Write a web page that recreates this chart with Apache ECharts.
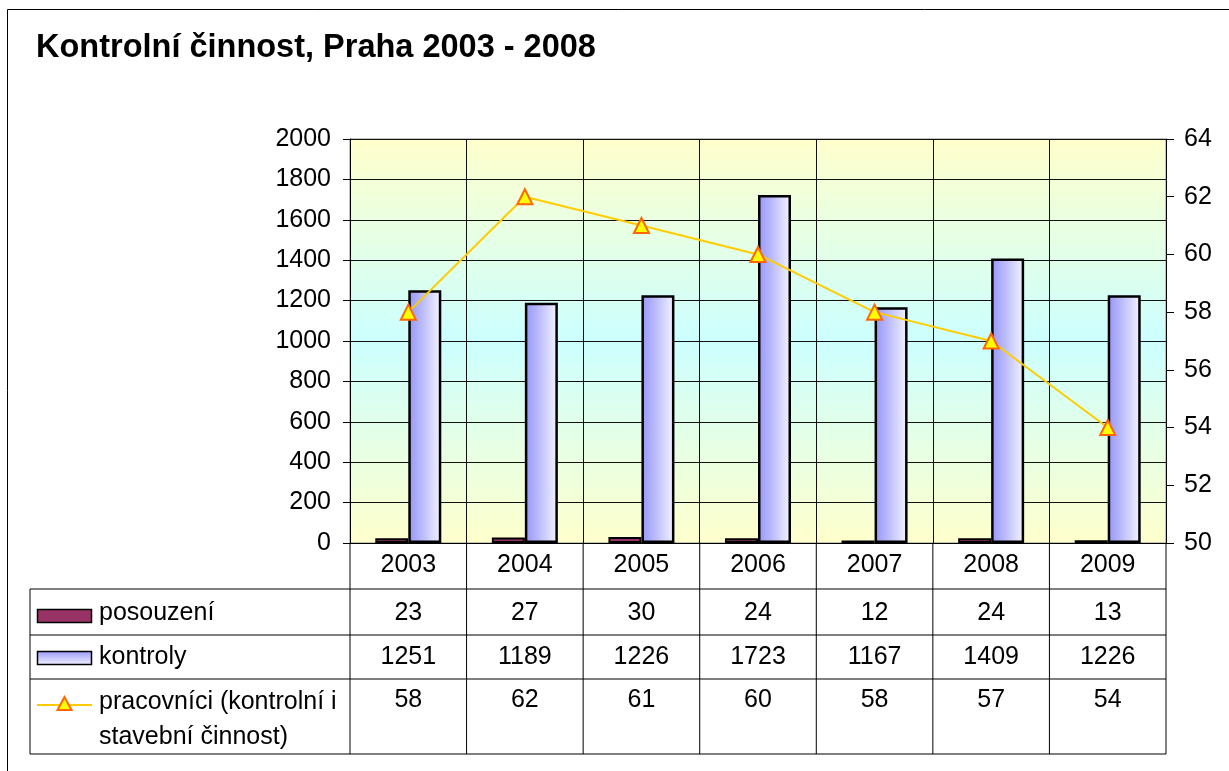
<!DOCTYPE html>
<html><head><meta charset="utf-8">
<script src="https://cdn.jsdelivr.net/npm/echarts@6/dist/echarts.min.js"></script>
<style>html,body{margin:0;padding:0;background:#fff}#c{width:1229px;height:771px}</style>
</head><body><div id="c"></div>
<script>
const titleText = 'Kontrolní činnost, Praha 2003 - 2008';
const years = ['2003', '2004', '2005', '2006', '2007', '2008', '2009'];
const posouzeni = [23, 27, 30, 24, 12, 24, 13];
const kontroly = [1251, 1189, 1226, 1723, 1167, 1409, 1226];
const pracovnici = [58, 62, 61, 60, 58, 57, 54];
const seriesNames = ['posouzení', 'kontroly', 'pracovníci (kontrolní i', 'stavební činnost)'];
const leftAxis = { min: 0, max: 2000, interval: 200 };
const rightAxis = { min: 50, max: 64, interval: 2 };

const FONT = '"Liberation Sans", Arial, sans-serif';
const FS = 25;
const chart = echarts.init(document.getElementById('c'), null, { renderer: 'canvas' });

const option = {
  animation: false,
  backgroundColor: '#fff',
  textStyle: { fontFamily: FONT },
  grid: {
    left: 350, right: 63, top: 139, bottom: 228,
    show: true,
    borderColor: '#888', borderWidth: 1,
    backgroundColor: new echarts.graphic.LinearGradient(0, 0, 0, 1, [
      { offset: 0, color: '#FFFFCC' },
      { offset: 0.5, color: '#CCFFFF' },
      { offset: 1, color: '#FFFFCC' }
    ])
  },
  xAxis: {
    type: 'category', data: years, boundaryGap: true,
    axisLine: { lineStyle: { color: '#000', width: 1 } },
    axisTick: { show: false },
    splitLine: { show: true, lineStyle: { color: '#111', width: 1 } },
    axisLabel: { fontSize: FS, color: '#000', margin: 10, fontFamily: FONT }
  },
  yAxis: [
    {
      type: 'value', min: leftAxis.min, max: leftAxis.max, interval: leftAxis.interval,
      axisLine: { show: true, lineStyle: { color: '#000', width: 1 } },
      axisTick: { show: true, length: 7, lineStyle: { color: '#000' } },
      splitLine: { show: true, lineStyle: { color: '#111', width: 1 } },
      axisLabel: { fontSize: FS, color: '#000', margin: 19, fontFamily: FONT, formatter: v => String(v) }
    },
    {
      type: 'value', min: rightAxis.min, max: rightAxis.max, interval: rightAxis.interval,
      position: 'right',
      axisLine: { show: true, lineStyle: { color: '#000', width: 1 } },
      axisTick: { show: true, length: 8, lineStyle: { color: '#000' } },
      splitLine: { show: false },
      axisLabel: { fontSize: FS, color: '#000', margin: 18, fontFamily: FONT, formatter: v => String(v) }
    }
  ],
  series: [
    {
      name: seriesNames[0], type: 'bar', data: posouzeni, barWidth: 33, barGap: '0%',
      itemStyle: { color: '#993366', borderColor: '#000', borderWidth: 2 }
    },
    {
      name: seriesNames[1], type: 'bar', data: kontroly, barWidth: 33, barGap: '0%',
      itemStyle: {
        color: new echarts.graphic.LinearGradient(0, 0, 1, 0, [
          { offset: 0, color: '#9696F8' },
          { offset: 0.35, color: '#B4B4FA' },
          { offset: 1, color: '#F4F4FF' }
        ]),
        borderColor: '#000', borderWidth: 2.5
      }
    },
    {
      name: seriesNames[2], type: 'line', yAxisIndex: 1, data: pracovnici,
      lineStyle: { color: '#FFCC00', width: 2 },
      symbol: 'triangle', symbolSize: 15,
      itemStyle: { color: '#FFFF00', borderColor: '#FF6600', borderWidth: 2 },
      z: 5
    }
  ]
};
chart.setOption(option);

// Table drawn below the plot
const cx = years.map((y, i) => chart.convertToPixel({ xAxisIndex: 0 }, i));
const step = cx[1] - cx[0];
const bounds = cx.map(c => c - step / 2).concat([cx[cx.length - 1] + step / 2]);
const axisY = chart.convertToPixel({ yAxisIndex: 0 }, leftAxis.min);
const rows = [589, 635, 679, 754];
const tableLeft = 30;
const rightEdge = bounds[bounds.length - 1];
const g = [];
const line = (x1, y1, x2, y2, color) => g.push({
  type: 'line', shape: { x1, y1, x2, y2 }, style: { stroke: color || '#000', lineWidth: 1 }, z: 10
});
const text = (t, x, y, align) => g.push({
  type: 'text', x, y, z: 11,
  style: { text: t, fill: '#000', font: FS + 'px ' + FONT, align: align || 'center', verticalAlign: 'middle' }
});

// outer frame
g.push({ type: 'rect', shape: { x: 7.5, y: 9.5, width: 1300, height: 800 }, style: { fill: null, stroke: '#000', lineWidth: 1 }, z: 1 });
// title
g.push({ type: 'text', x: 36, y: 48, z: 11, style: { text: titleText, fill: '#000', font: 'bold 32.5px ' + FONT, align: 'left', verticalAlign: 'middle' } });

bounds.forEach(b => line(b, axisY, b, rows[3]));
rows.forEach(r => line(tableLeft, r, rightEdge, r));
line(tableLeft, rows[0], tableLeft, rows[3]);

// legend keys
g.push({ type: 'rect', shape: { x: 37.5, y: 609.5, width: 54, height: 13 }, style: { fill: '#993366', stroke: '#000', lineWidth: 1.5 }, z: 11 });
g.push({ type: 'rect', shape: { x: 37.5, y: 651.5, width: 54, height: 13 },
  style: { fill: new echarts.graphic.LinearGradient(0, 0, 0, 1, [{ offset: 0, color: '#9A9AFA' }, { offset: 1, color: '#F2F2FF' }]), stroke: '#000', lineWidth: 1.5 }, z: 11 });
g.push({ type: 'line', shape: { x1: 37, y1: 705, x2: 92, y2: 705 }, style: { stroke: '#FFCC00', lineWidth: 2 }, z: 11 });
g.push({ type: 'polygon', shape: { points: [[64.5, 697], [57.5, 710], [71.5, 710]] }, style: { fill: '#FFFF00', stroke: '#FF6600', lineWidth: 2 }, z: 12 });

text(seriesNames[0], 99, 613, 'left');
text(seriesNames[1], 99, 657, 'left');
text(seriesNames[2], 99, 702, 'left');
text(seriesNames[3], 99, 737, 'left');

cx.forEach((c, i) => {
  text(String(posouzeni[i]), c, 613);
  text(String(kontroly[i]), c, 657);
  text(String(pracovnici[i]), c, 700);
});

chart.setOption({ graphic: g });
</script></body></html>
